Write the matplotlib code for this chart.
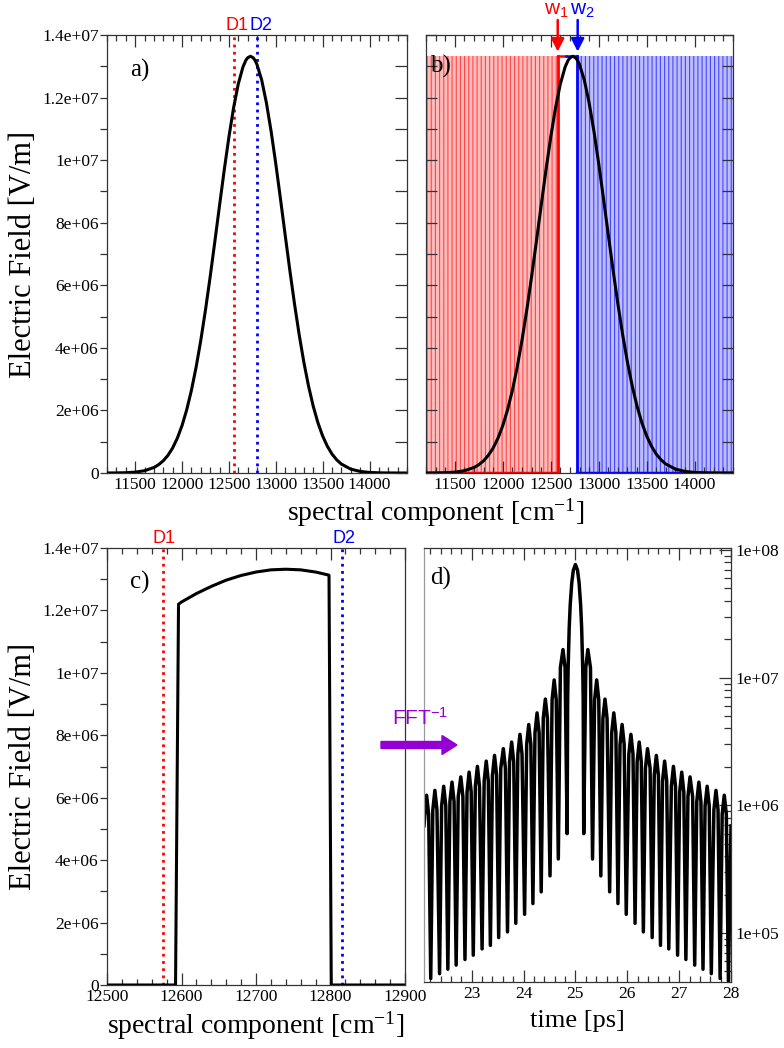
import matplotlib
matplotlib.use('Agg')
import matplotlib.pyplot as plt
import matplotlib.transforms as mtransforms
from matplotlib.patches import FancyArrow
from matplotlib.ticker import MultipleLocator, LogLocator, FuncFormatter, NullFormatter

# ---- values ----
# panels a) and b): spectral envelope
g_w = [11200, 11300, 11400, 11500, 11600, 11700, 11750, 11800, 11850, 11900,
       11950, 12000, 12050, 12100, 12150, 12200, 12250, 12300, 12350, 12400,
       12450, 12500, 12550, 12600, 12650, 12680, 12700, 12730, 12760, 12780,
       12800, 12850, 12900, 12950, 13000, 13050, 13100, 13150, 13200, 13250,
       13300, 13350, 13400, 13450, 13500, 13550, 13600, 13650, 13700, 13800,
       13900, 14000, 14100, 14200, 14300, 14400]
g_E = [1e3, 3.2e3, 9.7e3, 2.77e4, 7.26e4, 1.754e5, 2.64e5, 3.90e5, 5.64e5, 8.00e5,
       1.112e6, 1.513e6, 2.018e6, 2.636e6, 3.374e6, 4.233e6, 5.201e6, 6.263e6, 7.389e6, 8.541e6,
       9.672e6, 1.0733e7, 1.167e7, 1.2432e7, 1.2976e7, 1.3185e7, 1.3271e7, 1.332e7, 1.3271e7, 1.3185e7,
       1.3056e7, 1.256e7, 1.1837e7, 1.0932e7, 9.893e6, 8.77e6, 7.618e6, 6.484e6, 5.407e6, 4.418e6,
       3.537e6, 2.775e6, 2.132e6, 1.605e6, 1.184e6, 8.57e5, 6.06e5, 4.21e5, 2.86e5, 1.244e5,
       5.0e4, 1.84e4, 6.3e3, 2e3, 6e2, 2e2]
a_d1, a_d2 = 12558, 12797

# panel b): filtered regions and arrows
red_span = [11200, 12579]
blue_span = [12771, 14400]
fill_top = 1.332e7
gap_split = 12660
w1_pos, w2_pos = 12573, 12781

# panel c): cut spectrum
c_w = [12500, 12592, 12596, 12600, 12620, 12640, 12660, 12680, 12700, 12720,
       12740, 12760, 12780, 12798, 12801, 12900]
c_E = [0, 0, 1.22e7, 1.227e7, 1.254e7, 1.277e7, 1.297e7, 1.312e7, 1.323e7, 1.33e7,
       1.332e7, 1.33e7, 1.323e7, 1.313e7, 0, 0]
c_d1, c_d2 = 12575, 12815

# panel d): time signal (log scale)
d_left_t = [22.08, 22.13, 22.17, 22.21,
            22.25, 22.29, 22.33, 22.38, 22.42, 22.46, 22.50, 22.54,
            22.58, 22.62, 22.66, 22.70, 22.74, 22.79, 22.83, 22.87,
            22.91, 22.95, 22.99, 23.03, 23.07, 23.11, 23.15, 23.20,
            23.24, 23.28, 23.32, 23.36, 23.40, 23.44, 23.48, 23.52,
            23.56, 23.61, 23.65, 23.69, 23.73, 23.77, 23.81, 23.85,
            23.89, 23.93, 23.97, 24.02, 24.06, 24.10, 24.14, 24.18,
            24.22, 24.26, 24.30, 24.34, 24.38, 24.42, 24.46, 24.51,
            24.55, 24.59, 24.63, 24.67, 24.71, 24.76, 24.80, 24.84]
d_left_E = [6.9e5, 1.2e6, 8.5e5, 4.4e4,
            9.2e5, 1.31e6, 9.2e5, 4.8e4, 9.9e5, 1.41e6, 9.9e5, 5.2e4,
            1.07e6, 1.52e6, 1.07e6, 5.6e4, 1.17e6, 1.67e6, 1.17e6, 6.2e4,
            1.27e6, 1.82e6, 1.27e6, 6.7e4, 1.41e6, 2.02e6, 1.41e6, 7.5e4,
            1.55e6, 2.22e6, 1.55e6, 8.0e4, 1.72e6, 2.46e6, 1.72e6, 9.2e4,
            1.95e6, 2.78e6, 1.95e6, 1.02e5, 2.19e6, 3.13e6, 2.19e6, 1.19e5,
            2.52e6, 3.6e6, 2.52e6, 1.4e5, 3.0e6, 4.3e6, 3.0e6, 1.7e5,
            3.7e6, 5.3e6, 3.7e6, 2.1e5, 4.8e6, 6.8e6, 4.8e6, 2.8e5,
            6.7e6, 9.6e6, 6.7e6, 3.8e5, 1.2e7, 1.66e7, 1.2e7, 6.0e5]
d_main_t = [24.85, 24.86, 24.88, 24.90, 24.93, 24.96, 25.00,
            25.04, 25.07, 25.10, 25.12, 25.14, 25.15]
d_main_E = [6.6e6, 1.22e7, 2.45e7, 3.75e7, 5.57e7, 6.96e7, 7.7e7,
            6.96e7, 5.57e7, 3.75e7, 2.45e7, 1.22e7, 6.6e6]
d_right_t = [25.16,
             25.20, 25.24, 25.29, 25.33, 25.37, 25.41, 25.45, 25.49,
             25.53, 25.57, 25.61, 25.66, 25.70, 25.74, 25.78, 25.82,
             25.86, 25.90, 25.94, 25.98, 26.03, 26.07, 26.11, 26.15,
             26.19, 26.23, 26.27, 26.31, 26.35, 26.39, 26.44, 26.48,
             26.52, 26.56, 26.60, 26.64, 26.68, 26.72, 26.76, 26.80,
             26.85, 26.89, 26.93, 26.97, 27.01, 27.05, 27.09, 27.13,
             27.17, 27.21, 27.26, 27.30, 27.34, 27.38, 27.42, 27.46,
             27.50, 27.54, 27.58, 27.62, 27.67, 27.71, 27.75, 27.79,
             27.83, 27.87, 27.91, 27.95, 28.00]
d_right_E = [6.0e5,
             1.2e7, 1.66e7, 1.2e7, 3.8e5, 6.7e6, 9.6e6, 6.7e6, 2.8e5,
             4.8e6, 6.8e6, 4.8e6, 2.1e5, 3.7e6, 5.3e6, 3.7e6, 1.7e5,
             3.0e6, 4.3e6, 3.0e6, 1.4e5, 2.52e6, 3.6e6, 2.52e6, 1.19e5,
             2.19e6, 3.13e6, 2.19e6, 1.02e5, 1.95e6, 2.78e6, 1.95e6, 9.2e4,
             1.72e6, 2.46e6, 1.72e6, 8.0e4, 1.55e6, 2.22e6, 1.55e6, 7.5e4,
             1.41e6, 2.02e6, 1.41e6, 6.7e4, 1.27e6, 1.82e6, 1.27e6, 6.2e4,
             1.17e6, 1.67e6, 1.17e6, 5.6e4, 1.07e6, 1.52e6, 1.07e6, 5.2e4,
             9.9e5, 1.41e6, 9.9e5, 4.8e4, 9.2e5, 1.31e6, 9.2e5, 4.4e4,
             8.5e5, 1.2e6, 8.5e5, 4.2e4, 6.9e5]

# ---- style ----
plt.rcParams['font.family'] = ['Liberation Serif', 'DejaVu Serif']
plt.rcParams['mathtext.fontset'] = 'custom'
plt.rcParams['mathtext.rm'] = 'Liberation Serif'
plt.rcParams['mathtext.it'] = 'Liberation Serif:italic'
plt.rcParams['mathtext.sf'] = 'Liberation Sans'
plt.rcParams['hatch.linewidth'] = 0.8

RED, BLUE, VIOLET = '#ff0000', '#0000ff', '#9400d3'
frame = '#333333'
sans = 'Liberation Sans'
fmt_g = FuncFormatter(lambda v, p: '%g' % v)
fmt_e = FuncFormatter(lambda v, p: '%.0e' % v)

W, H = 784, 1048
fig = plt.figure(figsize=(W / 100, H / 100), dpi=100)


def box(l, t, r, b):
    return [l / W, 1 - b / H, (r - l) / W, (b - t) / H]


def x_style(ax, xmaj, xmin):
    for s in ax.spines.values():
        s.set_color(frame)
        s.set_linewidth(0.9)
    ax.xaxis.set_major_locator(MultipleLocator(xmaj))
    ax.xaxis.set_minor_locator(MultipleLocator(xmin))
    ax.xaxis.set_major_formatter(fmt_g)
    ax.tick_params(axis='x', which='both', direction='in', top=True, bottom=True,
                   color=frame, labelsize=12.5, pad=3, width=0.9)
    ax.tick_params(axis='x', which='major', length=8.5)
    ax.tick_params(axis='x', which='minor', length=4.5)


def field_y(ax):
    ax.set_ylim(0, 1.4e7)
    ax.yaxis.set_major_locator(MultipleLocator(2e6))
    ax.yaxis.set_minor_locator(MultipleLocator(1e6))
    ax.yaxis.set_major_formatter(fmt_g)


def right_ticks(ax):
    tw = ax.twinx()
    tw.set_ylim(ax.get_ylim())
    tw.yaxis.set_major_locator(MultipleLocator(2e6))
    tw.yaxis.set_minor_locator(MultipleLocator(1e6))
    tw.tick_params(axis='y', which='both', direction='in', length=8.5, width=0.9,
                   color=frame, labelright=False)
    for s in tw.spines.values():
        s.set_visible(False)


# ---- a) ----
ax_a = fig.add_axes(box(107, 35, 407, 473))
x_style(ax_a, 500, 100)
field_y(ax_a)
ax_a.set_xlim(11200, 14400)
ax_a.tick_params(axis='y', which='both', direction='out', left=True, right=False,
                 color=frame, labelsize=12.5, pad=1, width=0.9, length=5)
ax_a.plot(g_w, g_E, color='black', lw=2.2, zorder=3, solid_joinstyle='round')
ax_a.axvline(a_d1, color=RED, ls=(0, (1, 1.6)), lw=2, zorder=2)
ax_a.axvline(a_d2, color=BLUE, ls=(0, (1, 1.6)), lw=2, zorder=2)
tr_a = mtransforms.blended_transform_factory(ax_a.transData, ax_a.transAxes)
ax_a.annotate('D1', xy=(a_d1, 1), xycoords=tr_a, xytext=(2, 0.5), textcoords='offset points',
              ha='center', va='bottom', color=RED, fontsize=13, family=sans)
ax_a.annotate('D2', xy=(a_d2, 1), xycoords=tr_a, xytext=(3, 0.5), textcoords='offset points',
              ha='center', va='bottom', color=BLUE, fontsize=13, family=sans)
ax_a.text(0.077, 0.92, 'a)', transform=ax_a.transAxes, fontsize=18, va='center')
right_ticks(ax_a)

# ---- b) ----
ax_b = fig.add_axes(box(426, 35, 733, 473))
x_style(ax_b, 500, 100)
field_y(ax_b)
ax_b.set_xlim(11200, 14400)
ax_b.tick_params(axis='y', which='both', direction='in', left=True, right=True,
                 labelleft=False, color=frame, length=8, width=0.9)
ax_b.fill_between(red_span, 0, fill_top, facecolor='#ffbcbc', edgecolor='#ff4646',
                  hatch='||||', linewidth=0, zorder=1)
ax_b.fill_between(blue_span, 0, fill_top, facecolor='#bcbcff', edgecolor='#4646ff',
                  hatch='||||', linewidth=0, zorder=1)
ax_b.plot([red_span[1], red_span[1]], [0, fill_top], color=RED, lw=2, zorder=2)
ax_b.plot(red_span, [0, 0], color=RED, lw=2.5, zorder=2)
ax_b.plot([red_span[1], gap_split], [fill_top, fill_top], color=RED, lw=1.8, zorder=2)
ax_b.plot([gap_split, blue_span[0]], [fill_top, fill_top], color=BLUE, lw=1.8, zorder=2)
ax_b.plot([blue_span[0], blue_span[0]], [0, fill_top], color=BLUE, lw=2, zorder=2)
ax_b.plot(blue_span, [0, 0], color=BLUE, lw=2.5, zorder=2)
ax_b.plot(g_w, g_E, color='black', lw=2.2, zorder=3, solid_joinstyle='round')
for pos, col, lab, dx in [(w1_pos, RED, r'$\mathsf{w}_{\mathsf{1}}$', -1),
                          (w2_pos, BLUE, r'$\mathsf{w}_{\mathsf{2}}$', 3)]:
    ax_b.annotate('', xy=(pos, 1.347e7), xytext=(pos, 1.448e7), annotation_clip=False,
                  arrowprops=dict(arrowstyle='-|>,head_length=0.55,head_width=0.28',
                                  color=col, lw=1.8, shrinkA=0, shrinkB=0, mutation_scale=14))
    ax_b.annotate(lab, xy=(pos, 1.448e7), xytext=(dx, 1), textcoords='offset points',
                  ha='center', va='bottom', color=col, fontsize=15, annotation_clip=False)
ax_b.text(0.013, 0.929, 'b)', transform=ax_b.transAxes, fontsize=18, va='center')

# ---- c) ----
ax_c = fig.add_axes(box(107, 548, 405, 985))
x_style(ax_c, 100, 20)
field_y(ax_c)
ax_c.set_xlim(12500, 12900)
ax_c.tick_params(axis='y', which='both', direction='out', left=True, right=False,
                 color=frame, labelsize=12.5, pad=1, width=0.9, length=5)
ax_c.plot(c_w, c_E, color='black', lw=2.2, zorder=3)
ax_c.axvline(c_d1, color=RED, ls=(0, (1, 1.6)), lw=2, zorder=2)
ax_c.axvline(c_d2, color=BLUE, ls=(0, (1, 1.6)), lw=2, zorder=2)
tr_c = mtransforms.blended_transform_factory(ax_c.transData, ax_c.transAxes)
ax_c.annotate('D1', xy=(c_d1, 1), xycoords=tr_c, xytext=(1, 1), textcoords='offset points',
              ha='center', va='bottom', color=RED, fontsize=13, family=sans)
ax_c.annotate('D2', xy=(c_d2, 1), xycoords=tr_c, xytext=(2, 1), textcoords='offset points',
              ha='center', va='bottom', color=BLUE, fontsize=13, family=sans)
ax_c.text(0.077, 0.922, 'c)', transform=ax_c.transAxes, fontsize=18, va='center')

# ---- d) ----
ax_d = fig.add_axes(box(424, 548, 731, 982))
x_style(ax_d, 1, 0.2)
ax_d.spines['left'].set_color('#9a9a9a')
ax_d.set_xlim(22.08, 28.0)
ax_d.set_yscale('log')
ax_d.set_ylim(4.13e4, 1.037e8)
ax_d.yaxis.set_major_locator(LogLocator(base=10))
ax_d.yaxis.set_minor_locator(LogLocator(base=10, subs=range(2, 10)))
ax_d.yaxis.set_major_formatter(fmt_e)
ax_d.yaxis.set_minor_formatter(NullFormatter())
ax_d.tick_params(axis='y', which='both', direction='in', left=False, right=True,
                 labelleft=False, labelright=True, color=frame, labelsize=12.5, pad=3, width=0.9)
ax_d.tick_params(axis='y', which='major', length=8.5)
ax_d.tick_params(axis='y', which='minor', length=5)
ax_d.plot(d_left_t + d_main_t + d_right_t, d_left_E + d_main_E + d_right_E,
          color='black', lw=2.5, solid_joinstyle='round')
ax_d.text(0.02, 0.929, 'd)', transform=ax_d.transAxes, fontsize=18, va='center')

# ---- labels ----
xl = 'spectral component [cm$^{\\mathrm{-1}}$]'
fig.text(436 / W, 1 - 521 / H, xl, ha='center', va='baseline', fontsize=20)
fig.text(256 / W, 1 - 1034 / H, xl, ha='center', va='baseline', fontsize=20)
fig.text(577 / W, 1 - 1027 / H, 'time [ps]', ha='center', va='baseline', fontsize=19)
fig.text(24 / W, 1 - 254 / H, 'Electric Field [V/m]', rotation=90,
         ha='center', va='center', fontsize=22)
fig.text(24 / W, 1 - 766 / H, 'Electric Field [V/m]', rotation=90,
         ha='center', va='center', fontsize=22)

# FFT^-1 arrow between c) and d)
fig.add_artist(FancyArrow(381 / W, 1 - 745 / H, 76 / W, 0, width=7 / H, head_width=19 / H,
                          head_length=15 / W, length_includes_head=True,
                          color=VIOLET, transform=fig.transFigure))
fig.text(420 / W, 1 - 725 / H, 'FFT$^{\\mathsf{-1}}$', ha='center', va='baseline',
         color=VIOLET, fontsize=15, family=sans)

fig.savefig('out.png', dpi=100)
